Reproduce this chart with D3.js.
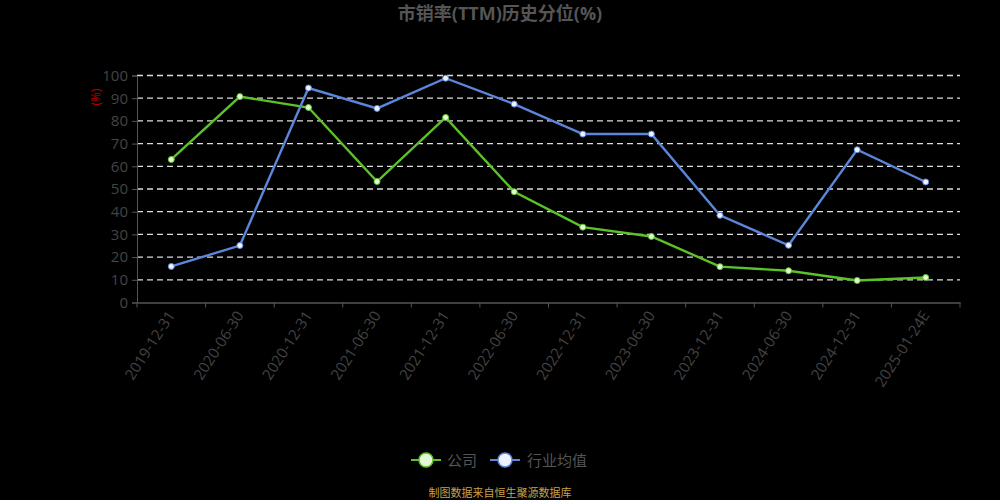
<!DOCTYPE html>
<html>
<head>
<meta charset="utf-8">
<script src="https://cdn.jsdelivr.net/npm/d3@7"></script>
<style>
  body { margin: 0; background: #000; }
  svg { display: block; font-family: "Open Sans", "Noto Sans CJK SC", sans-serif; }
</style>
</head>
<body>
<div id="chart"></div>
<script>
// data
const dates = ["2019-12-31", "2020-06-30", "2020-12-31", "2021-06-30", "2021-12-31", "2022-06-30",
  "2022-12-31", "2023-06-30", "2023-12-31", "2024-06-30", "2024-12-31", "2025-01-24E"];
const company = [63, 90.7, 85.9, 53.3, 81.5, 48.8, 33.2, 29.1, 15.8, 14.0, 9.7, 11.0];
const industry = [15.9, 25.1, 94.5, 85.5, 98.8, 87.4, 74.2, 74.2, 38.4, 25.2, 67.3, 53.1];
const yTicks = [0, 10, 20, 30, 40, 50, 60, 70, 80, 90, 100];

const width = 1000, height = 500;
const margin = { top: 75.5, right: 40, bottom: 197.5, left: 137 };
const fontFamily = '"Open Sans", "Noto Sans CJK SC", sans-serif';

const svg = d3.select("#chart").append("svg")
  .attr("width", width).attr("height", height)
  .style("background", "#000");

// scales
const x = d3.scaleBand().domain(dates).range([margin.left, width - margin.right]);
const y = d3.scaleLinear().domain([0, 100]).range([height - margin.bottom, margin.top]);

// title
svg.append("text")
  .attr("x", 500).attr("y", 20)
  .attr("text-anchor", "middle")
  .attr("fill", "#555")
  .attr("font-size", 18).attr("font-weight", "bold")
  .text("市销率(TTM)历史分位(%)");

// grid
svg.append("g")
  .selectAll("line")
  .data(yTicks.filter(d => d > 0))
  .join("line")
  .attr("x1", margin.left).attr("x2", width - margin.right)
  .attr("y1", d => y(d)).attr("y2", d => y(d))
  .attr("stroke", "#ddd").attr("stroke-width", 1.3)
  .attr("stroke-dasharray", "6,4");

// y axis
const yAxis = svg.append("g")
  .attr("transform", `translate(${margin.left},0)`)
  .call(d3.axisLeft(y).tickValues(yTicks).tickSize(5).tickPadding(4))
  .attr("font-family", fontFamily);
yAxis.select(".domain").attr("stroke", "#555");
yAxis.selectAll(".tick line").attr("stroke", "#555");
yAxis.selectAll(".tick text").attr("fill", "#444").attr("font-size", 15);

svg.append("text")
  .attr("transform", "translate(100,97) rotate(-90)")
  .attr("text-anchor", "middle")
  .attr("fill", "#b00")
  .attr("font-size", 12)
  .text("(%)");

// x axis
const xAxis = svg.append("g")
  .attr("transform", `translate(0,${y(0)})`)
  .call(d3.axisBottom(x).tickSize(0).tickPadding(0))
  .attr("font-family", fontFamily);
xAxis.select(".domain").attr("stroke", "#555").attr("stroke-width", 1.5);
xAxis.selectAll(".tick text")
  .attr("fill", "#444").attr("font-size", 15)
  .attr("text-anchor", "end")
  .attr("dy", "0.35em")
  .attr("transform", "translate(0,10) rotate(-57)");
// boundary ticks
svg.append("g")
  .selectAll("line")
  .data(d3.range(dates.length + 1))
  .join("line")
  .attr("x1", i => margin.left + i * x.step())
  .attr("x2", i => margin.left + i * x.step())
  .attr("y1", y(0)).attr("y2", y(0) + 5)
  .attr("stroke", "#555");

// lines
const series = [
  { name: "公司", values: company, color: "#5cc22a", marker: "#e6f7d8" },
  { name: "行业均值", values: industry, color: "#5b86db", marker: "#eef3ff" }
];

const line = d3.line()
  .x((d, i) => x(dates[i]) + x.bandwidth() / 2)
  .y(d => y(d));

series.forEach(s => {
  svg.append("path")
    .datum(s.values)
    .attr("d", line)
    .attr("fill", "none")
    .attr("stroke", s.color)
    .attr("stroke-width", 2.4);
  svg.append("g")
    .selectAll("circle")
    .data(s.values)
    .join("circle")
    .attr("cx", (d, i) => x(dates[i]) + x.bandwidth() / 2)
    .attr("cy", d => y(d))
    .attr("r", 3)
    .attr("fill", s.marker)
    .attr("stroke", s.color)
    .attr("stroke-width", 1);
});

// legend
const legendPos = [{ x: 411, tx: 447 }, { x: 490, tx: 527 }];
series.forEach((s, i) => {
  const g = svg.append("g").attr("transform", `translate(${legendPos[i].x},460)`);
  g.append("line").attr("x1", 0).attr("x2", 30).attr("y1", 0).attr("y2", 0)
    .attr("stroke", s.color).attr("stroke-width", 2);
  g.append("circle").attr("cx", 15).attr("cy", 0).attr("r", 7)
    .attr("fill", s.marker).attr("stroke", s.color).attr("stroke-width", 1.5);
  svg.append("text")
    .attr("x", legendPos[i].tx).attr("y", 466)
    .attr("fill", "#555").attr("font-size", 15)
    .text(s.name);
});

// footer
svg.append("text")
  .attr("x", 500).attr("y", 497)
  .attr("text-anchor", "middle")
  .attr("fill", "#c9a045")
  .attr("font-size", 11)
  .text("制图数据来自恒生聚源数据库");
</script>
</body>
</html>
